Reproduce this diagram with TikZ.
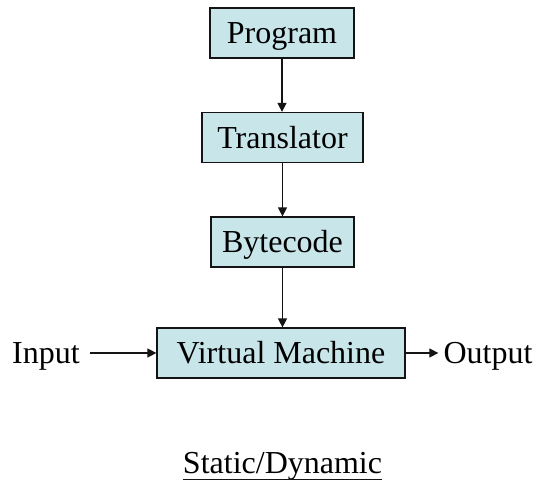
\documentclass[tikz,border=0pt]{standalone}
\usepackage{fontspec}
\setmainfont{Liberation Serif}
\usetikzlibrary{arrows.meta}
\definecolor{boxfill}{RGB}{200,230,234}
\definecolor{inkline}{RGB}{20,20,20}
\begin{document}
\begin{tikzpicture}[x=1pt,y=-1pt,
  font=\fontsize{32}{38}\selectfont,
  stage/.style={draw=inkline, line width=1.2pt, fill=boxfill, inner sep=0pt,
    text height=21.2pt, text depth=0pt, minimum height=50pt},
  label/.style={inner sep=0pt, text height=21.2pt, text depth=0pt},
  flow/.style={draw=inkline, line width=1.2pt, -{Triangle[length=9pt,width=9pt]}}]
\useasboundingbox (0,0) rectangle (539,487);
\node[stage, minimum width=144pt] (prog)  at (282,33)    {Program};
\node[stage, minimum width=161pt] (trans) at (282.5,137.5) {Translator};
\node[stage, minimum width=143pt] (byte)  at (282.5,242) {Bytecode};
\node[stage, minimum width=248pt] (vm)    at (281,353)   {Virtual Machine};
\node[label] (inp) at (46,353)  {Input};
\node[label] (out) at (488,353) {Output};
\node[label] (sd)  at (282.5,462.5) {Static/Dynamic};
\draw[flow] (prog.south) -- (prog.south |- trans.north);
\draw[flow] (trans.south) -- (trans.south |- byte.north);
\draw[flow] (byte.south) -- (byte.south |- vm.north);
\draw[flow, shorten <=10pt] (inp.east) -- (vm.west);
\draw[flow, shorten >=5pt] (vm.east) -- (out.west);
\draw[inkline, line width=1.2pt] ([yshift=-6pt]sd.base west) -- ([yshift=-6pt]sd.base east);
\end{tikzpicture}
\end{document}
